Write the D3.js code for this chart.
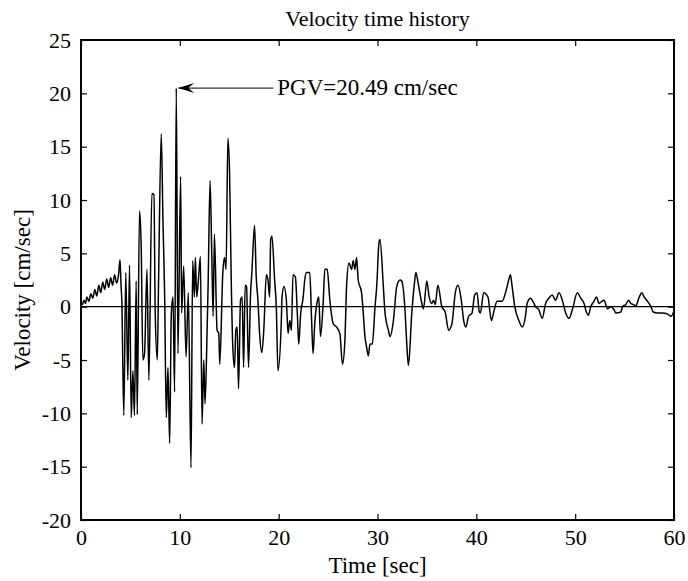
<!DOCTYPE html>
<html>
<head>
<meta charset="utf-8">
<script src="https://cdn.jsdelivr.net/npm/d3@7"></script>
<style>
  html, body { margin: 0; padding: 0; background: #fff; overflow: hidden; }
  svg { display: block; }
  text { font-family: "Liberation Serif", "Times New Roman", serif; fill: #000; }
</style>
</head>
<body>
<div id="chart"></div>
<script>
// time axis [sec] and ground velocity [cm/sec]
const timeSec = [
  0, 0.15, 0.3, 0.45, 0.6, 0.8, 1.0, 1.2, 1.4, 1.6, 1.8, 2.0, 2.2, 2.4, 2.6, 2.8, 3.0, 3.2, 3.4, 3.6, 3.8, 3.95, 4.05, 4.13,
  4.33, 4.53, 4.74, 4.91, 5.08, 5.25, 5.41, 5.58, 5.69, 5.92, 6.09, 6.26, 6.43, 6.67, 6.87, 7.17, 7.38, 7.51, 7.72, 7.85,
  8.12, 8.29, 8.46, 8.63, 8.8, 8.97, 9.14, 9.31, 9.47, 9.64, 9.81, 10.08, 10.18, 10.39, 10.63, 10.86, 11.13, 11.3, 11.47,
  11.57, 11.71, 11.88, 12.08, 12.25, 12.42, 12.55, 12.76, 12.86, 13.06, 13.23, 13.37, 13.5, 13.77, 13.94, 14.04, 14.35,
  14.52, 14.68, 14.86, 15.03, 15.2, 15.36, 15.53, 15.67, 15.8, 15.94, 16.14, 16.31, 16.45, 16.61, 16.75, 16.95, 17.16,
  17.29, 17.56, 17.73, 17.9, 18.07, 18.3, 18.51, 18.75, 18.92, 19.09, 19.19, 19.32, 19.59, 19.76, 19.93, 20.27, 20.34,
  20.54, 20.78, 20.95, 21.12, 21.29, 21.45, 21.69, 21.9, 22.03, 22.23, 22.47, 22.64, 22.81, 23.15, 23.32, 23.48, 23.65,
  23.93, 24.06, 24.23, 24.5, 24.67, 24.91, 25.18, 25.52, 25.85, 26.19, 26.46, 26.7, 26.87, 27.11, 27.38, 27.54, 27.72,
  27.88, 28.05, 28.39, 28.56, 28.73, 28.9, 29.07, 29.24, 29.48, 29.75, 29.92, 30.15, 30.25, 30.59, 30.76, 31.1, 31.27,
  31.61, 31.95, 32.28, 32.45, 32.8, 32.96, 33.13, 33.47, 33.74, 33.88, 34.15, 34.49, 34.65, 34.99, 35.23, 35.5, 35.67,
  35.84, 36.11, 36.51, 36.85, 37.19, 37.53, 37.87, 38.14, 38.48, 38.72, 38.95, 39.22, 39.56, 39.83, 40.07, 40.3, 40.41,
  40.74, 41.18, 41.52, 41.76, 42.1, 42.61, 42.95, 43.28, 43.45, 43.62, 43.89, 44.3, 44.64, 44.97, 45.14, 45.48, 45.72,
  45.99, 46.33, 46.67, 47.01, 47.34, 47.68, 48.02, 48.36, 48.7, 49.04, 49.37, 49.71, 50.22, 50.56, 50.9, 51.13, 51.34,
  51.57, 51.91, 52.15, 52.42, 52.69, 52.93, 53.27, 53.6, 53.94, 54.11, 54.62, 54.79, 55.13, 55.4, 55.63, 55.87, 56.14,
  56.48, 56.75, 56.99, 57.33, 57.67, 57.9, 58.34, 58.85, 59.36, 59.7, 60
];
const velocity = [
  0.3, 0.2, 0.6, 0.3, 0.9, 0.5, 1.2, 0.8, 1.6, 1.0, 2.0, 1.3, 2.3, 1.6, 2.6, 1.8, 2.7, 2.0, 3.0, 2.2, 3.0, 4.4, 2.0, 0.6,
  -10.2, 3.2, -6.9, 3.9, -10.4, -6.0, -10.2, 2.4, -10.1, 9.0, 5.7, -5.0, -4.4, 3.5, -6.9, 10.6, 10.5, -0.6, -5.0, 2.5,
  16.2, 8.2, 1.3, -10.4, -5.7, -12.8, -0.6, 0.9, -8.0, 20.49, -4.4, 12.2, -0.6, 3.8, -4.7, 1.3, -15.1, 4.3, 0.9,
  4.6, 0.9, 2.5, 4.7, -11.0, -5.0, -9.1, -2.2, 1.9, 11.8, 5.0, -0.9, 6.8, -2.2, -2.5, -5.4, 3.2,
  4.6, 3.5, 15.8, 12.6, 2.5, -3.8, -5.7, -2.2, -1.9, -7.7, 0.6, 0.9, -5.7, 2.0, 1.9, -5.7, 1.3,
  3.2, 7.6, 2.8, 0.6, -2.5, -4.3, -1.9, 3.0, 2.5, 0.9, 6.3, 6.6, 2.5, 0.0, -6.0, -1.3, 0.9,
  1.9, 0.6, -2.5, -1.3, -2.2, 3.0, 2.8, -0.9, -3.5, -0.6, 0.8, 2.5, 3.2, 3.2, -0.9, -4.4, -1.6,
  0.6, 0.9, -2.8, 0.3, 3.5, 3.5, 0.6, -1.6, -1.9, -2.5, -5.4, -3.2, 1.9, 4.1, 3.5, 4.3, 3.5,
  4.6, 2.5, 1.3, -0.6, -2.8, -3.8, -4.6, -3.5, -3.5, 0.0, 1.9, 6.0, 6.3, 1.9, -0.6, -2.2, -2.8,
  -1.3, 1.9, 2.5, 2.4, -0.6, -3.5, -5.5, -0.6, 2.2, 3.2, 2.0, 0.3, -0.2, 2.4, 0.9, 0.3, 0.6,
  0.2, 2.0, 0.0, -0.5, -2.2, -1.6, 1.3, 2.0, 0.6, -1.3, -1.9, -0.9, -0.6, 1.1, 1.3, -0.5, -0.6,
  1.3, 0.9, -1.3, -0.5, 0.5, 0.5, 1.3, 2.5, 3.0, 1.9, 0.0, -1.3, -1.9, -0.9, 0.3, 0.8, 0.5,
  0.0, -0.3, -1.1, 0.3, 0.8, 1.1, 0.6, 1.3, 0.6, -0.6, -1.1, -0.3, 1.3, 0.8, 0.3, -0.5, -0.8,
  0.0, 0.5, 0.9, 0.3, 0.5, 0.6, -0.2, 0.0, -0.3, -0.6, -0.5, 0.0, 0.2, 0.6, 0.3, 0.2, 0.1,
  0.9, 1.3, 0.9, 0.5, 0.0, -0.5, -0.6, -0.6, -0.7, -0.9, -0.4
];
const xTicks = [0, 10, 20, 30, 40, 50, 60];
const yTicks = [-20, -15, -10, -5, 0, 5, 10, 15, 20, 25];
const pgvLabel = "PGV=20.49 cm/sec";

const width = 688, height = 581;
const margin = { top: 40, right: 14, bottom: 61, left: 81 };
const innerWidth = width - margin.left - margin.right;
const innerHeight = height - margin.top - margin.bottom;

const svg = d3.select("#chart").append("svg")
    .attr("width", width)
    .attr("height", height);
svg.append("rect").attr("width", width).attr("height", height).attr("fill", "#fff");

const graph = svg.append("g")
    .attr("transform", "translate(" + margin.left + "," + margin.top + ")");

const x = d3.scaleLinear().domain([0, 60]).range([0, innerWidth]);
const y = d3.scaleLinear().domain([-20, 25]).range([innerHeight, 0]);

// axes, ticks pointing inward on all four sides
const fontSize = "22px";
const plain = d => String(d); // hyphen minus like the original
graph.append("g")
    .attr("transform", "translate(0," + innerHeight + ")")
    .call(d3.axisBottom(x).tickValues(xTicks).tickSize(-6).tickPadding(9).tickFormat(plain))
    .call(g => g.selectAll("text").style("font-size", fontSize));
graph.append("g")
    .call(d3.axisTop(x).tickValues(xTicks).tickSize(-6))
    .call(g => g.selectAll("text").remove());
graph.append("g")
    .call(d3.axisLeft(y).tickValues(yTicks).tickSize(-6).tickPadding(10).tickFormat(plain))
    .call(g => g.selectAll("text").style("font-size", fontSize));
graph.append("g")
    .attr("transform", "translate(" + innerWidth + ",0)")
    .call(d3.axisRight(y).tickValues(yTicks).tickSize(-6))
    .call(g => g.selectAll("text").remove());
graph.selectAll(".domain").remove();
graph.selectAll(".tick line").attr("stroke", "#000").attr("stroke-width", 1.2);
graph.selectAll(".tick text").attr("fill", "#000")
    .style("font-family", "'Liberation Serif', 'Times New Roman', serif");

// zero line
graph.append("line")
    .attr("x1", x(0)).attr("x2", x(60))
    .attr("y1", y(0)).attr("y2", y(0))
    .attr("stroke", "#000").attr("stroke-width", 1.2);

// velocity trace
const series = timeSec.map((t, i) => [t, velocity[i]]);
graph.append("path")
    .datum(series)
    .attr("fill", "none")
    .attr("stroke", "#000")
    .attr("stroke-width", 1.5)
    .attr("d", d3.line().curve(d3.curveMonotoneX).x(d => x(d[0])).y(d => y(d[1])));

// frame
graph.append("rect")
    .attr("width", innerWidth).attr("height", innerHeight)
    .attr("fill", "none").attr("stroke", "#000").attr("stroke-width", 2);

// PGV annotation
const peakIdx = d3.maxIndex(velocity);
const px = x(timeSec[peakIdx]), py = y(velocity[peakIdx]);
const arrowEnd = px + 97;
graph.append("line")
    .attr("x1", arrowEnd).attr("y1", py)
    .attr("x2", px + 2).attr("y2", py)
    .attr("stroke", "#000").attr("stroke-width", 1);
graph.append("path")
    .attr("d", "M" + (px + 2) + "," + py + " L" + (px + 18) + "," + (py - 5) +
        " L" + (px + 12) + "," + py + " L" + (px + 18) + "," + (py + 5) + " Z")
    .attr("fill", "#000");
graph.append("text")
    .attr("x", arrowEnd + 4)
    .attr("y", py + 7)
    .style("font-size", "23px")
    .text(pgvLabel);

// titles
svg.append("text")
    .attr("x", margin.left + innerWidth / 2)
    .attr("y", 26)
    .attr("text-anchor", "middle")
    .style("font-size", fontSize)
    .text("Velocity time history");
svg.append("text")
    .attr("x", margin.left + innerWidth / 2)
    .attr("y", 573)
    .attr("text-anchor", "middle")
    .style("font-size", "23px")
    .text("Time [sec]");
svg.append("text")
    .attr("transform", "translate(30," + (margin.top + innerHeight / 2 + 10) + ") rotate(-90)")
    .attr("text-anchor", "middle")
    .style("font-size", "23px")
    .text("Velocity [cm/sec]");
</script>
</body>
</html>
